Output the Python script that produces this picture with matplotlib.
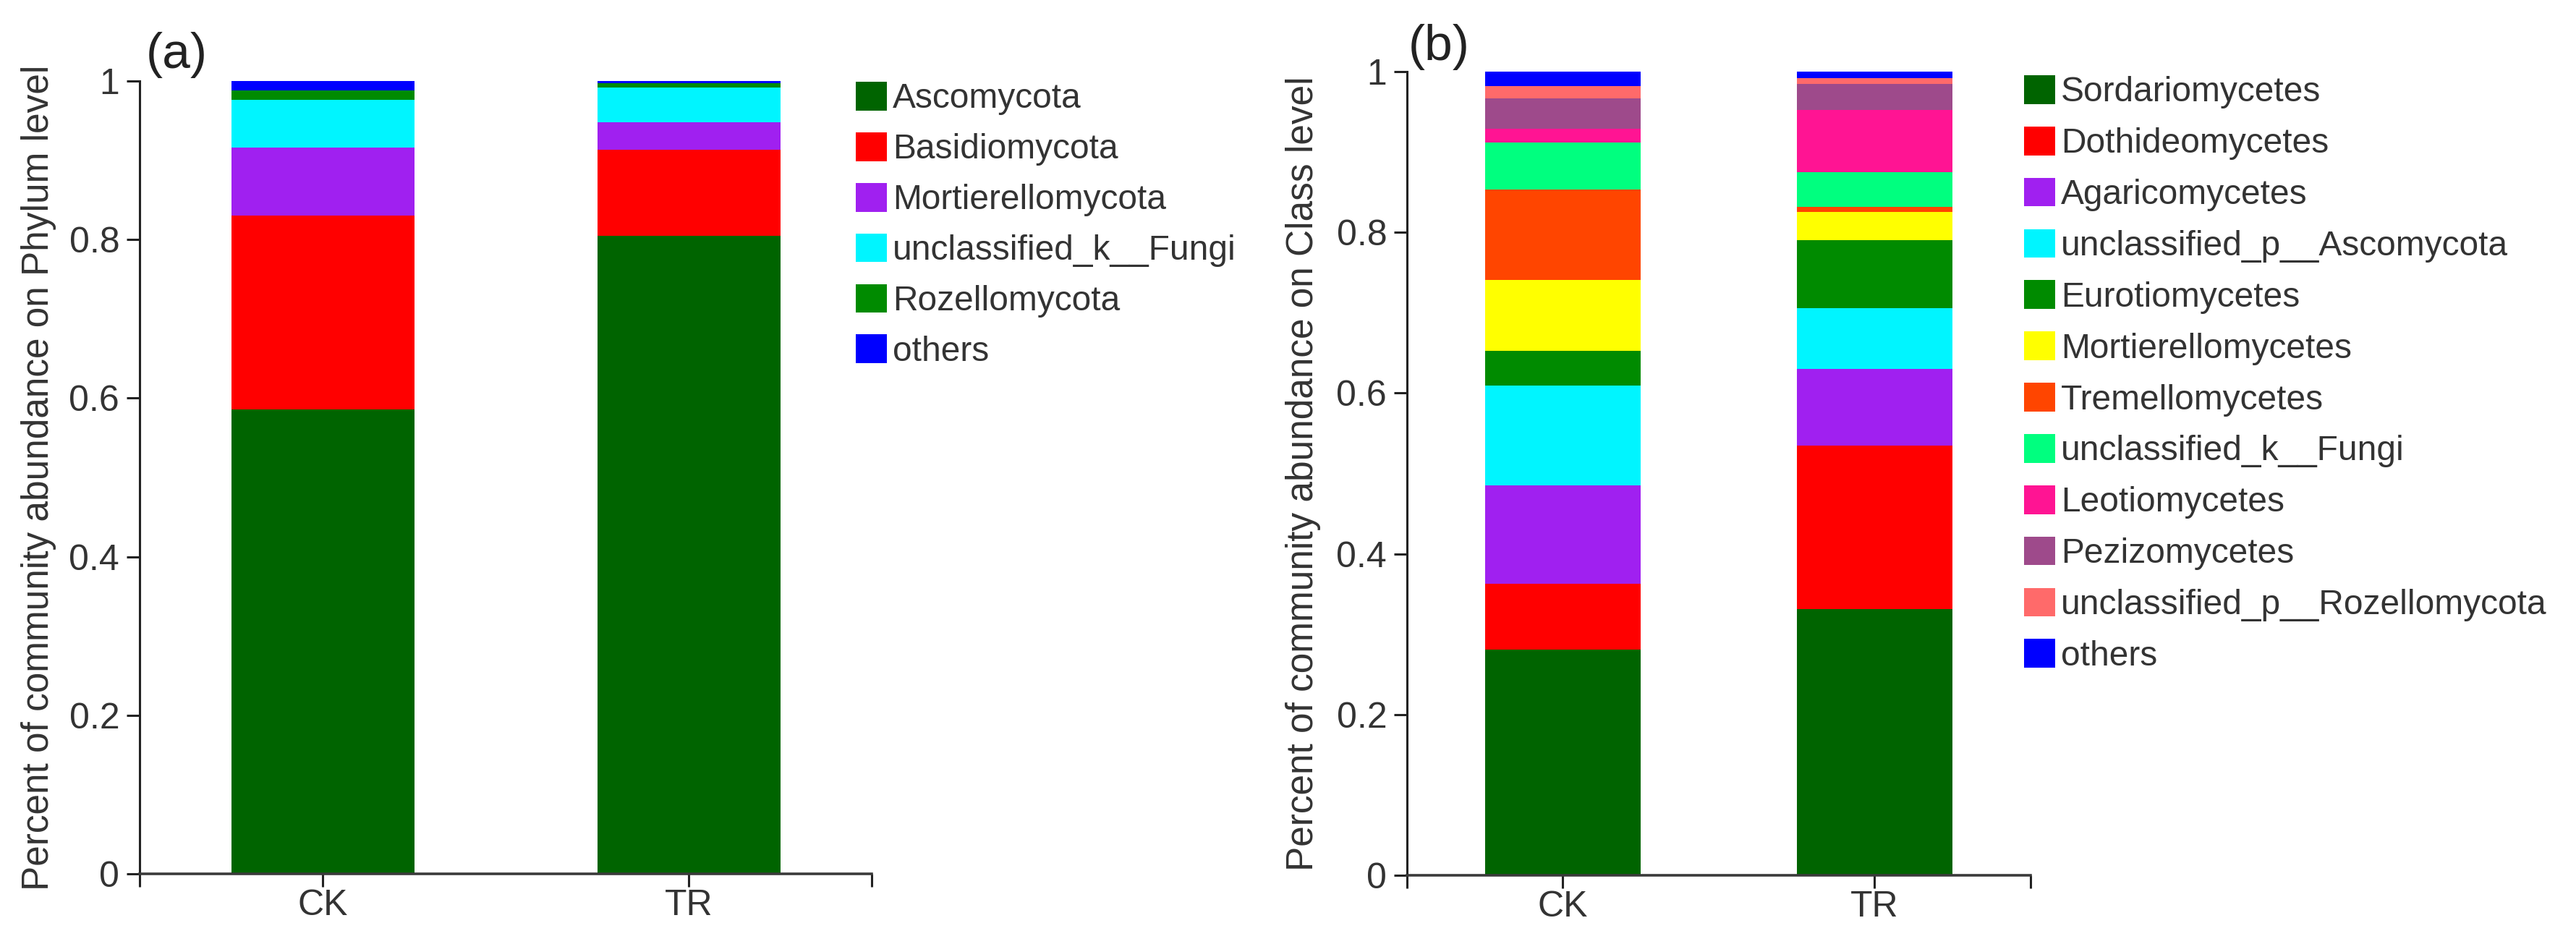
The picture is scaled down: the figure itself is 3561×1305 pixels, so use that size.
import matplotlib
matplotlib.use('Agg')
import matplotlib.pyplot as plt
import numpy as np

plt.rcParams['font.family'] = ['Liberation Sans', 'DejaVu Sans']

# --- data ---
samples = ['CK', 'TR']

phylum_names = ['Ascomycota', 'Basidiomycota', 'Mortierellomycota',
                'unclassified_k__Fungi', 'Rozellomycota', 'others']
phylum_ck = [0.586, 0.244, 0.086, 0.060, 0.012, 0.012]
phylum_tr = [0.805, 0.108, 0.035, 0.044, 0.005, 0.003]
phylum_colors = ['#006400', '#FF0000', '#A020F0', '#00F5FF', '#008B00', '#0000FF']

class_names = ['Sordariomycetes', 'Dothideomycetes', 'Agaricomycetes',
               'unclassified_p__Ascomycota', 'Eurotiomycetes', 'Mortierellomycetes',
               'Tremellomycetes', 'unclassified_k__Fungi', 'Leotiomycetes',
               'Pezizomycetes', 'unclassified_p__Rozellomycota', 'others']
class_ck = [0.281, 0.082, 0.122, 0.124, 0.044, 0.088, 0.112, 0.059, 0.017, 0.038, 0.015, 0.018]
class_tr = [0.331, 0.204, 0.095, 0.076, 0.084, 0.035, 0.007, 0.043, 0.077, 0.033, 0.007, 0.008]
class_colors = ['#006400', '#FF0000', '#A020F0', '#00F5FF', '#008B00', '#FFFF00',
                '#FF4500', '#00FF7F', '#FF1493', '#9E4A8B', '#FF6A6A', '#0000FF']

yticks = [0, 0.2, 0.4, 0.6, 0.8, 1.0]
ytick_labels = ['0', '0.2', '0.4', '0.6', '0.8', '1']

W, H = 3562, 1305
fig = plt.figure(figsize=(W / 100, H / 100), dpi=100)
txt = '#333333'


def stacked(ax, ck, tr, names, colors, ylabel, label_x):
    x = np.arange(1, len(samples) + 1)
    bottom = np.zeros(len(samples))
    handles = []
    for i in range(len(names)):
        vals = np.array([ck[i], tr[i]])
        b = ax.bar(x, vals, bottom=bottom, width=0.5, color=colors[i], linewidth=0)
        handles.append(b)
        bottom += vals
    ax.set_xlim(0.5, 2.5)
    ax.set_ylim(0, 1)
    ax.set_xticks(x)
    ax.set_xticklabels(samples)
    # little end caps at both ends of the x axis
    ax.set_xticks([0.5, 2.5], minor=True)
    ax.set_yticks(yticks)
    ax.set_yticklabels(ytick_labels)
    for s in ['top', 'right']:
        ax.spines[s].set_visible(False)
    ax.spines['left'].set_linewidth(2.2)
    ax.spines['left'].set_color('#222222')
    ax.spines['bottom'].set_linewidth(2.6)
    ax.spines['bottom'].set_color('#3a3a3a')
    ax.tick_params(axis='both', which='both', direction='out', length=13, width=2.2,
                   color='#222222', labelsize=36, labelcolor=txt)
    ax.tick_params(axis='x', pad=2)
    ax.tick_params(axis='y', pad=7)
    ax.set_ylabel(ylabel, fontsize=37, color=txt)
    ax.yaxis.set_label_coords(label_x, 0.5)
    return handles


axa = fig.add_axes([193 / W, 97 / H, 1012 / W, 1096 / H])
ha = stacked(axa, phylum_ck, phylum_tr, phylum_names, phylum_colors,
             'Percent of community abundance on Phylum level', -0.114)
axa.legend(ha, phylum_names, loc='upper left', bbox_to_anchor=(1183 / W, 1 - 113 / H),
           bbox_transform=fig.transFigure, frameon=False, fontsize=34.5, labelcolor=txt,
           handlelength=0.9, handleheight=0.9, handletextpad=0.17, labelspacing=0.49,
           borderpad=0, borderaxespad=0)

axb = fig.add_axes([1945 / W, 95 / H, 862 / W, 1111 / H])
hb = stacked(axb, class_ck, class_tr, class_names, class_colors,
             'Percent of community abundance on Class level', -0.138)
axb.legend(hb, class_names, loc='upper left', bbox_to_anchor=(2798 / W, 1 - 104 / H),
           bbox_transform=fig.transFigure, frameon=False, fontsize=34.5, labelcolor=txt,
           handlelength=0.9, handleheight=0.9, handletextpad=0.17, labelspacing=0.51,
           borderpad=0, borderaxespad=0)

fig.text(202 / W, 1 - 94 / H, '(a)', fontsize=50, color='#222222', va='baseline', ha='left')
fig.text(1947 / W, 1 - 83 / H, '(b)', fontsize=50, color='#222222', va='baseline', ha='left')

fig.savefig('out.png', dpi=100)
